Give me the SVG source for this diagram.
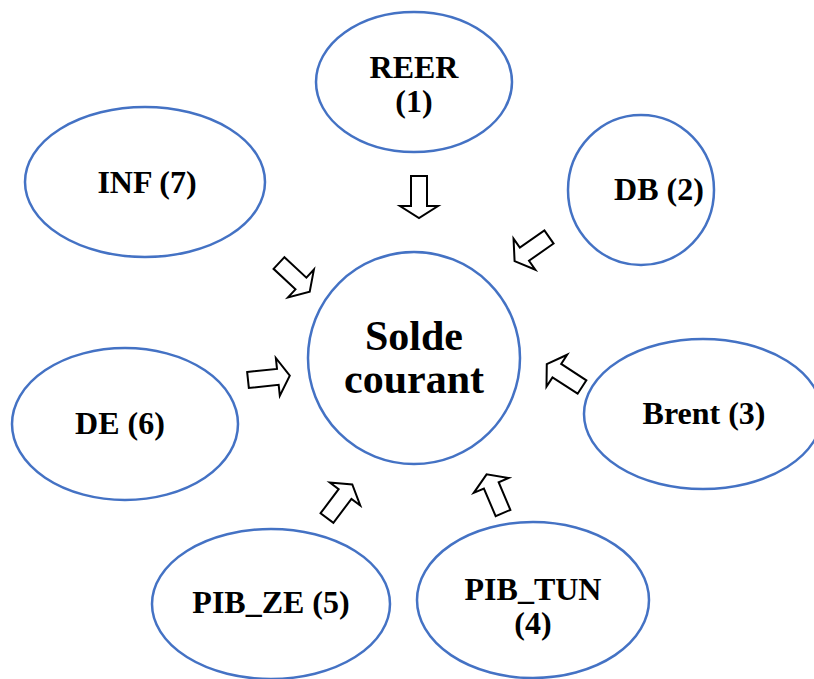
<svg xmlns="http://www.w3.org/2000/svg" width="814" height="679" viewBox="0 0 814 679">
<defs>
<style>
.n{fill:#fff;stroke:#4472C4;stroke-width:2.5}
.t{font-family:"Liberation Serif","Times New Roman",serif;font-weight:bold;font-size:32px;fill:#000;text-anchor:middle}
.c{font-size:42px}
.a{fill:#fff;stroke:#000;stroke-width:2;stroke-linejoin:miter}
</style>
<path id="arr" d="M0,-8 L30,-8 L30,-19 L42,0 L30,19 L30,8 L0,8 Z"/>
</defs>
<rect width="814" height="679" fill="#fff"/>
<g id="center"><circle class="n" cx="414" cy="358" r="106"/><text class="t c" x="414" y="350">Solde</text><text class="t c" x="414" y="393">courant</text></g>
<g id="reer"><ellipse class="n" cx="414" cy="82" rx="98" ry="70"/><text class="t" x="414" y="78">REER</text><text class="t" x="414" y="112">(1)</text></g>
<g id="db"><ellipse class="n" cx="641" cy="190" rx="73" ry="75"/><text class="t" x="659" y="200">DB (2)</text></g>
<g id="inf"><ellipse class="n" cx="145" cy="182" rx="120" ry="75"/><text class="t" x="147" y="193">INF (7)</text></g>
<g id="brent"><ellipse class="n" cx="703" cy="414" rx="119" ry="75"/><text class="t" x="704" y="424">Brent (3)</text></g>
<g id="de"><ellipse class="n" cx="125" cy="424" rx="113" ry="76"/><text class="t" x="120" y="434">DE (6)</text></g>
<g id="pibze"><ellipse class="n" cx="271" cy="604" rx="119" ry="75"/><text class="t" x="271" y="613">PIB_ZE (5)</text></g>
<g id="pibtun"><ellipse class="n" cx="533" cy="600" rx="116" ry="78"/><text class="t" x="533" y="600">PIB_TUN</text><text class="t" x="533" y="634">(4)</text></g>
<g id="connectors">
<use href="#arr" class="a" transform="translate(419,176) rotate(90)"/>
<use href="#arr" class="a" transform="translate(549,237) rotate(145)"/>
<use href="#arr" class="a" transform="translate(279,263) rotate(43)"/>
<use href="#arr" class="a" transform="translate(248,380) rotate(-6)"/>
<use href="#arr" class="a" transform="translate(582,387) rotate(213)"/>
<use href="#arr" class="a" transform="translate(327,518) rotate(-53)"/>
<use href="#arr" class="a" transform="translate(503,513) rotate(247)"/>
</g>
</svg>
